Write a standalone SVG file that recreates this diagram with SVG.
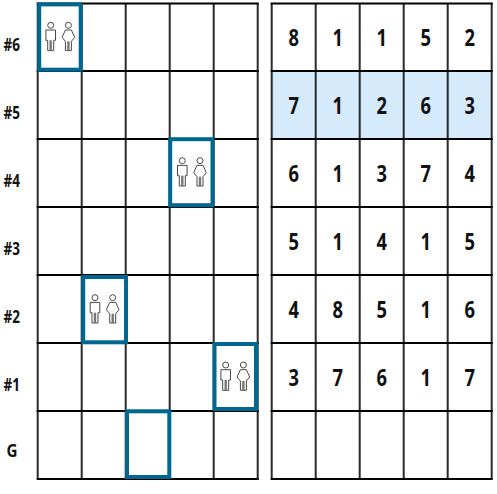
<svg xmlns="http://www.w3.org/2000/svg" width="497" height="494" viewBox="0 0 497 494">
<style>
.g{stroke:#2a2a2a;stroke-width:2;fill:none}
.h{stroke:#000;stroke-width:2;fill:none}
.b{fill:none;stroke:#006890;stroke-width:4}
.t{font-family:"Noto Sans","Open Sans",sans-serif;font-weight:700;font-size:23.5px;text-anchor:middle;fill:#111}
.l{font-family:"Noto Sans","Open Sans",sans-serif;font-weight:700;font-size:17px;text-anchor:middle;fill:#111}
.i{fill:#fff;stroke:#333;stroke-width:.9}
</style>
<defs>
<g id="pair">
<circle class="i" cx="0" cy="0" r="3"/>
<path class="i" d="M-4.8 4.7H4.8V15H3V25.3H-3V15H-4.8Z"/>
<path d="M0 15V25.3" stroke="#777" stroke-width="2.4"/>
<circle class="i" cx="17.7" cy="0" r="3"/>
<path class="i" d="M14.7 4.7H20.7L24 12L20.7 16V25.3H14.7V16L11.4 12Z"/>
<path d="M17.7 16V25.3" stroke="#777" stroke-width="2.4"/>
</g>
</defs>
<g id="connectors"></g>
<rect id="highlight" x="271.7" y="71" width="220" height="68" fill="#d5ebfb"/>
<g id="grid-left">
<path class="g" d="M37.7 3V479M81.7 3V479M125.7 3V479M169.7 3V479M213.7 3V479M257.7 3V479"/>
<path class="h" d="M36.7 3.5H258.7M36.7 71H258.7M36.7 139H258.7M36.7 207H258.7M36.7 275H258.7M36.7 343H258.7M36.7 411H258.7M36.7 479H258.7"/>
</g>
<g id="grid-right">
<path class="g" d="M271.7 3V479M315.7 3V479M359.7 3V479M403.7 3V479M447.7 3V479M491.7 3V479"/>
<path class="h" d="M270.7 3.5H492.7M270.7 71H492.7M270.7 139H492.7M270.7 207H492.7M270.7 275H492.7M270.7 343H492.7M270.7 411H492.7M270.7 479H492.7"/>
</g>
<g id="floor-labels">
<text class="l" x="11.7" y="50.5" textLength="16.5" lengthAdjust="spacingAndGlyphs">#6</text>
<text class="l" x="11.7" y="118.5" textLength="16.5" lengthAdjust="spacingAndGlyphs">#5</text>
<text class="l" x="11.7" y="186.5" textLength="16.5" lengthAdjust="spacingAndGlyphs">#4</text>
<text class="l" x="11.7" y="254.5" textLength="16.5" lengthAdjust="spacingAndGlyphs">#3</text>
<text class="l" x="11.7" y="322.5" textLength="16.5" lengthAdjust="spacingAndGlyphs">#2</text>
<text class="l" x="11.7" y="390.5" textLength="16.5" lengthAdjust="spacingAndGlyphs">#1</text>
<text class="l" x="12" y="456.7" textLength="11" lengthAdjust="spacingAndGlyphs">G</text>
</g>
<g id="elevator-6"><rect class="b" x="39.2" y="4.4" width="41.5" height="65.3"/><use href="#pair" x="50.7" y="25.3"/></g>
<g id="elevator-4"><rect class="b" x="170.2" y="139.2" width="42.3" height="66"/><use href="#pair" x="182.3" y="160.7"/></g>
<g id="elevator-2"><rect class="b" x="83.2" y="277" width="42.8" height="65.3"/><use href="#pair" x="95" y="297.7"/></g>
<g id="elevator-1"><rect class="b" x="214.5" y="344" width="41.5" height="65"/><use href="#pair" x="225.7" y="365"/></g>
<g id="elevator-g"><rect class="b" x="127" y="411.3" width="42.3" height="65.7"/></g>
<g id="numbers">
<text class="t" x="293.7" y="46" textLength="10.5" lengthAdjust="spacingAndGlyphs">8</text><text class="t" x="337.7" y="46" textLength="10.5" lengthAdjust="spacingAndGlyphs">1</text><text class="t" x="381.7" y="46" textLength="10.5" lengthAdjust="spacingAndGlyphs">1</text><text class="t" x="425.7" y="46" textLength="10.5" lengthAdjust="spacingAndGlyphs">5</text><text class="t" x="469.7" y="46" textLength="10.5" lengthAdjust="spacingAndGlyphs">2</text>
<text class="t" x="293.7" y="114" textLength="10.5" lengthAdjust="spacingAndGlyphs">7</text><text class="t" x="337.7" y="114" textLength="10.5" lengthAdjust="spacingAndGlyphs">1</text><text class="t" x="381.7" y="114" textLength="10.5" lengthAdjust="spacingAndGlyphs">2</text><text class="t" x="425.7" y="114" textLength="10.5" lengthAdjust="spacingAndGlyphs">6</text><text class="t" x="469.7" y="114" textLength="10.5" lengthAdjust="spacingAndGlyphs">3</text>
<text class="t" x="293.7" y="182" textLength="10.5" lengthAdjust="spacingAndGlyphs">6</text><text class="t" x="337.7" y="182" textLength="10.5" lengthAdjust="spacingAndGlyphs">1</text><text class="t" x="381.7" y="182" textLength="10.5" lengthAdjust="spacingAndGlyphs">3</text><text class="t" x="425.7" y="182" textLength="10.5" lengthAdjust="spacingAndGlyphs">7</text><text class="t" x="469.7" y="182" textLength="10.5" lengthAdjust="spacingAndGlyphs">4</text>
<text class="t" x="293.7" y="250" textLength="10.5" lengthAdjust="spacingAndGlyphs">5</text><text class="t" x="337.7" y="250" textLength="10.5" lengthAdjust="spacingAndGlyphs">1</text><text class="t" x="381.7" y="250" textLength="10.5" lengthAdjust="spacingAndGlyphs">4</text><text class="t" x="425.7" y="250" textLength="10.5" lengthAdjust="spacingAndGlyphs">1</text><text class="t" x="469.7" y="250" textLength="10.5" lengthAdjust="spacingAndGlyphs">5</text>
<text class="t" x="293.7" y="318" textLength="10.5" lengthAdjust="spacingAndGlyphs">4</text><text class="t" x="337.7" y="318" textLength="10.5" lengthAdjust="spacingAndGlyphs">8</text><text class="t" x="381.7" y="318" textLength="10.5" lengthAdjust="spacingAndGlyphs">5</text><text class="t" x="425.7" y="318" textLength="10.5" lengthAdjust="spacingAndGlyphs">1</text><text class="t" x="469.7" y="318" textLength="10.5" lengthAdjust="spacingAndGlyphs">6</text>
<text class="t" x="293.7" y="386" textLength="10.5" lengthAdjust="spacingAndGlyphs">3</text><text class="t" x="337.7" y="386" textLength="10.5" lengthAdjust="spacingAndGlyphs">7</text><text class="t" x="381.7" y="386" textLength="10.5" lengthAdjust="spacingAndGlyphs">6</text><text class="t" x="425.7" y="386" textLength="10.5" lengthAdjust="spacingAndGlyphs">1</text><text class="t" x="469.7" y="386" textLength="10.5" lengthAdjust="spacingAndGlyphs">7</text>
</g>
</svg>
